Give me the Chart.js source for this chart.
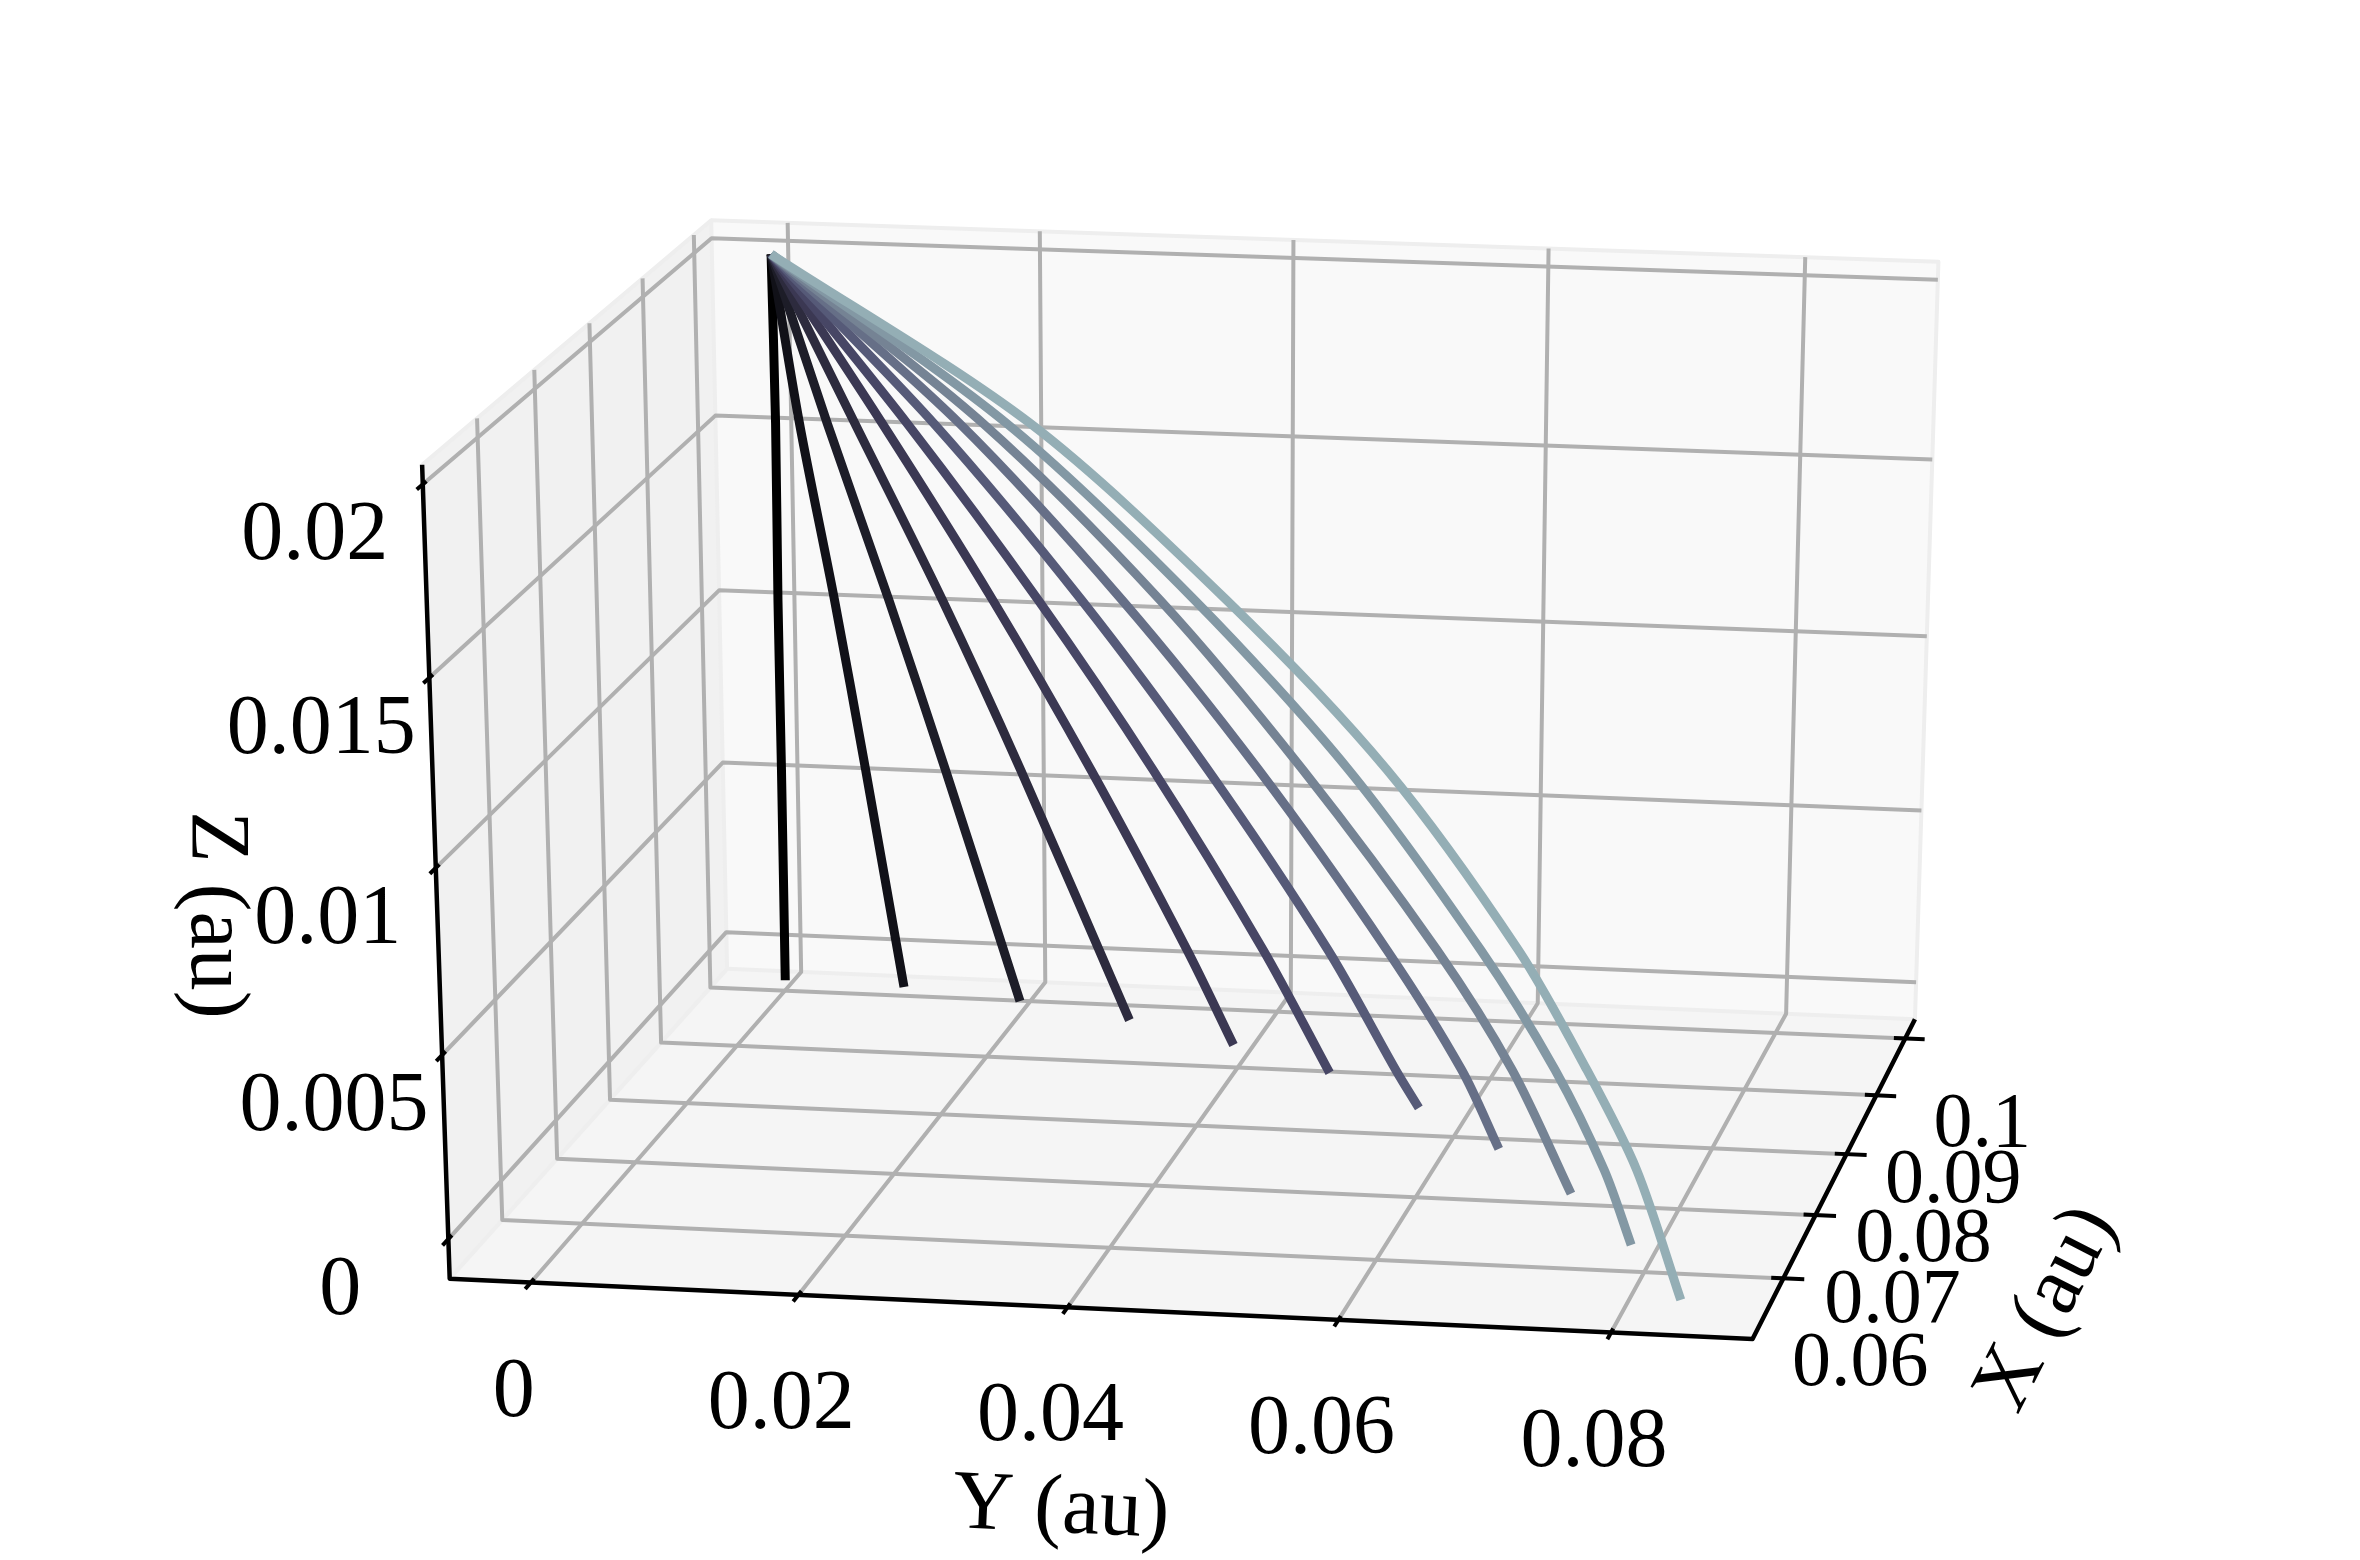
<!DOCTYPE html>
<html>
<head>
<meta charset="utf-8">
<title>Trajectories</title>
<script src="https://cdn.jsdelivr.net/npm/chart.js@4"></script>
<style>
    body { margin: 0; background: #fff; }
    canvas { display: block; }
</style>
</head>
<body>
<canvas id="chart" width="2360" height="1560"></canvas>
<script>
// axis limits of the box (au)
const xLim = [0.05075, 0.10347];
const yLim = [-0.00609, 0.09033];
const zLim = [-0.00109, 0.0205];

const xTicks = [0.06, 0.07, 0.08, 0.09, 0.1];
const yTicks = [0, 0.02, 0.04, 0.06, 0.08];
const zTicks = [0, 0.005, 0.01, 0.015, 0.02];
const xTickLabels = ["0.06", "0.07", "0.08", "0.09", "0.1"];
const yTickLabels = ["0", "0.02", "0.04", "0.06", "0.08"];
const zTickLabels = ["0", "0.005", "0.01", "0.015", "0.02"];

// one row per curve
const curveX = [
    [.1000, .0990, .0978, .0966, .0953],
    [.1000, .0990, .0976, .0965, .0950],
    [.1000, .0985, .0969, .0954, .0934],
    [.1000, .0979, .0957, .0937, .0909],
    [.1000, .0970, .0940, .0913, .0887, .0874],
    [.1000, .0959, .0920, .0886, .0853, .0834],
    [.1000, .0945, .0894, .0852, .0812, .0789, .0782],
    [.1000, .0926, .0863, .0812, .0763, .0735, .0721],
    [.1000, .0905, .0828, .0767, .0711, .0679, .0655],
    [.1000, .0879, .0787, .0713, .0651, .0616, .0592, .0580],
    [.1000, .0850, .0741, .0655, .0586, .0550, .0525, .0501]
];
const curveY = [
    [.0000, .0005, .0009, .0014, .0019],
    [.0000, .0024, .0055, .0082, .0116],
    [.0000, .0048, .0101, .0150, .0215],
    [.0000, .0072, .0148, .0216, .0311],
    [.0000, .0097, .0194, .0280, .0364, .0405],
    [.0000, .0121, .0237, .0338, .0435, .0493],
    [.0000, .0147, .0280, .0392, .0498, .0558, .0578],
    [.0000, .0174, .0322, .0444, .0558, .0624, .0657],
    [.0000, .0200, .0363, .0492, .0611, .0678, .0730],
    [.0000, .0228, .0403, .0543, .0661, .0727, .0771, .0795],
    [.0000, .0256, .0442, .0589, .0707, .0768, .0812, .0852]
];
const curveZ = [
    [.02004, .01545, .01060, .00590, .00000],
    [.02004, .01547, .01069, .00602, .00000],
    [.02004, .01556, .01085, .00628, .00000],
    [.02004, .01568, .01108, .00663, .00000],
    [.02004, .01583, .01138, .00708, .00247, .00000],
    [.02004, .01599, .01171, .00756, .00310, .00000],
    [.02004, .01621, .01213, .00814, .00385, .00092, .00000],
    [.02004, .01649, .01262, .00881, .00472, .00193, .00000],
    [.02004, .01679, .01316, .00954, .00563, .00293, .00000],
    [.02004, .01715, .01378, .01042, .00665, .00406, .00180, .00000],
    [.02004, .01757, .01447, .01134, .00774, .00521, .00302, .00000]
];
const curveColors = ["#000000", "#111118", "#1d1d28", "#2d2b3e", "#3b3853", "#474665",
    "#565a78", "#666f87", "#758394", "#8398a4", "#94aeb5"];

// camera fitted to the box corners, maps (x, y, z, 1) to canvas pixels
const camera = [
    [6625.146, 13237.18, -1961.422, 191.9585],
    [-4062.569, 415.2758, -38454.78, 1445.569],
    [1.875294, -0.1568711, -1.619305, 0.9021088]
];

function project(p) {
    const h = camera.map(r => r[0] * p[0] + r[1] * p[1] + r[2] * p[2] + r[3]);
    return { x: h[0] / h[2], y: h[1] / h[2] };
}

function line3d(points, color, width, tension) {
    return {
        data: points.map(project),
        showLine: true,
        pointRadius: 0,
        borderColor: color,
        borderWidth: width,
        borderCapStyle: "butt",
        borderJoinStyle: "round",
        tension: tension || 0,
        clip: false
    };
}

const [x0, x1] = xLim;
const [y0, y1] = yLim;
const [z0, z1] = zLim;

const gridColor = "#b0b0b0";
const edgeColor = "#eeeeee";
const gridWidth = 4;

let sets = [];

// pane edges
[
    [[x0, y0, z1], [x1, y0, z1], [x1, y0, z0], [x0, y0, z0]],
    [[x1, y0, z1], [x1, y1, z1], [x1, y1, z0], [x1, y0, z0]]
].forEach(pts => sets.push(line3d(pts, edgeColor, 4)));

// grid runs along the floor or side wall, then up the back wall
xTicks.forEach(x => sets.push(line3d([[x, y1, z0], [x, y0, z0], [x, y0, z1]], gridColor, gridWidth)));
yTicks.forEach(y => sets.push(line3d([[x0, y, z0], [x1, y, z0], [x1, y, z1]], gridColor, gridWidth)));
zTicks.forEach(z => sets.push(line3d([[x0, y0, z], [x1, y0, z], [x1, y1, z]], gridColor, gridWidth)));

// axes and tick marks
sets.push(line3d([[x0, y0, z1], [x0, y0, z0], [x0, y1, z0], [x1, y1, z0]], "#000", 4.5));
xTicks.forEach(x => sets.push(line3d([[x, y1 - 0.0009, z0], [x, y1 + 0.00155, z0]], "#000", 4)));
yTicks.forEach(y => sets.push(line3d([[x0 - 0.001, y, z0], [x0 + 0.0006, y, z0]], "#000", 4)));
zTicks.forEach(z => sets.push(line3d([[x0 - 0.001, y0, z], [x0 + 0.0006, y0, z]], "#000", 4)));

curveX.forEach((xs, i) => {
    const pts = xs.map((x, j) => [x, curveY[i][j], curveZ[i][j]]);
    sets.push(line3d(pts, curveColors[i], 9, 0.3));
});

// Chart.js paints the first dataset last
sets.reverse();

const panes = [
    { color: "#f1f1f1", pts: [[x0, y0, z0], [x1, y0, z0], [x1, y0, z1], [x0, y0, z1]] },
    { color: "#f9f9f9", pts: [[x1, y0, z0], [x1, y1, z0], [x1, y1, z1], [x1, y0, z1]] },
    { color: "#f5f5f5", pts: [[x0, y0, z0], [x0, y1, z0], [x1, y1, z0], [x1, y0, z0]] }
];

const panePlugin = {
    id: "panes",
    beforeDatasetsDraw(chart) {
        const ctx = chart.ctx;
        const sx = chart.scales.x, sy = chart.scales.y;
        panes.forEach(pane => {
            ctx.beginPath();
            pane.pts.map(project).forEach((p, i) => {
                const px = sx.getPixelForValue(p.x), py = sy.getPixelForValue(p.y);
                if (i === 0) ctx.moveTo(px, py); else ctx.lineTo(px, py);
            });
            ctx.closePath();
            ctx.fillStyle = pane.color;
            ctx.fill();
        });
    }
};

const fontFamily = '"Liberation Serif"';

const textPlugin = {
    id: "axisText",
    afterDatasetsDraw(chart) {
        const ctx = chart.ctx;
        const sx = chart.scales.x, sy = chart.scales.y;
        ctx.save();
        ctx.fillStyle = "#000";
        ctx.textAlign = "center";
        ctx.textBaseline = "alphabetic";

        function tickLabels(values, labels, toPoint, size, dx, dy) {
            ctx.font = size + "px " + fontFamily;
            values.forEach((v, i) => {
                const p = project(toPoint(v));
                ctx.fillText(labels[i], sx.getPixelForValue(p.x) + dx, sy.getPixelForValue(p.y) + dy + size / 3);
            });
        }
        tickLabels(xTicks, xTickLabels, v => [v, y1, z0], 78, 77, 81);
        tickLabels(yTicks, yTickLabels, v => [x0, v, z0], 84, -17, 105);
        tickLabels(zTicks, zTickLabels, v => [x0, y0, v], 84, -108, 47);

        ctx.font = "84px " + fontFamily;
        ctx.textBaseline = "middle";
        [["Y (au)", 1061, 1510, 2.7], ["Z (au)", 214, 915, 90], ["X (au)", 2047, 1309, -63]].forEach(([text, x, y, deg]) => {
            ctx.save();
            ctx.translate(x, y);
            ctx.rotate(deg * Math.PI / 180);
            ctx.fillText(text, 0, 0);
            ctx.restore();
        });
        ctx.restore();
    }
};

new Chart(document.getElementById("chart").getContext("2d"), {
    type: "scatter",
    data: { datasets: sets },
    options: {
        responsive: false,
        animation: false,
        layout: { padding: 0 },
        plugins: { legend: { display: false }, tooltip: { enabled: false } },
        scales: {
            x: { type: "linear", min: 0, max: 2360, display: false },
            y: { type: "linear", min: 0, max: 1560, reverse: true, display: false }
        }
    },
    plugins: [panePlugin, textPlugin]
});
</script>
</body>
</html>
